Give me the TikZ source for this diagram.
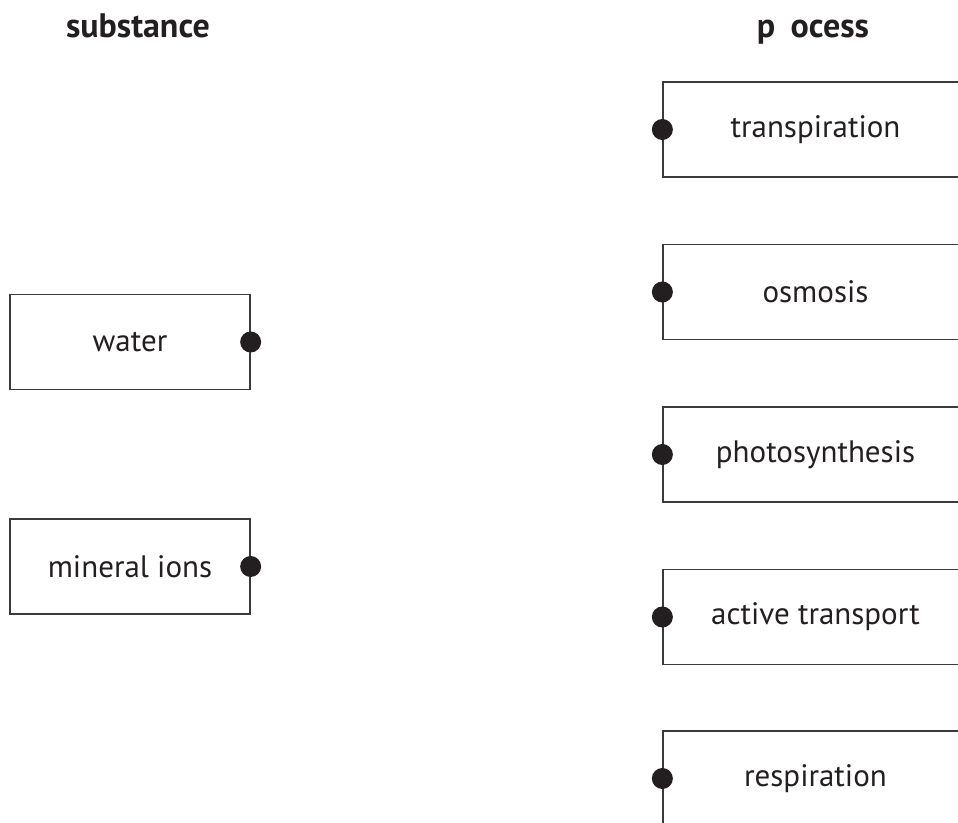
\documentclass[tikz,border=0pt]{standalone}
\usepackage{fontspec}
\setmainfont{PT Sans}
\definecolor{ink}{HTML}{231F20}
\definecolor{edge}{HTML}{3A3A3A}
\begin{document}
\begin{tikzpicture}[x=1pt,y=-1pt,
  every node/.style={text=ink,font=\fontsize{31}{36}\selectfont},
  box/.style={draw=edge,line width=1.3pt,minimum height=95pt,inner sep=0pt},
  lbox/.style={box,minimum width=240pt},
  rbox/.style={box,minimum width=305pt},
  dot/.style={circle,fill=ink,minimum size=21pt,inner sep=0pt},
  head/.style={font=\fontsize{34}{40}\selectfont\bfseries}]
\useasboundingbox (0,0) rectangle (958,822);
\clip (0,0) rectangle (958,822);
\node[head,anchor=base] (h1) at (138,37) {substance};
\node[head,anchor=base] (h2) at (813,37) {p\hspace{0.45em}ocess};
\node[lbox] (water) at (130,342) {water};
\node[lbox] (mineral) at (130,566.5) {mineral ions};
\node[dot] (dw) at (water.east) {};
\node[dot] (dm) at (mineral.east) {};
\foreach \n/\y/\t in {t/129.5/transpiration,o/292/osmosis,p/454.5/photosynthesis,a/617/active transport,r/778.5/respiration}{
  \node[rbox] (\n) at (815.5,\y) {\t};
  \node[dot] (d\n) at (\n.west) {};
}
\end{tikzpicture}
\end{document}
